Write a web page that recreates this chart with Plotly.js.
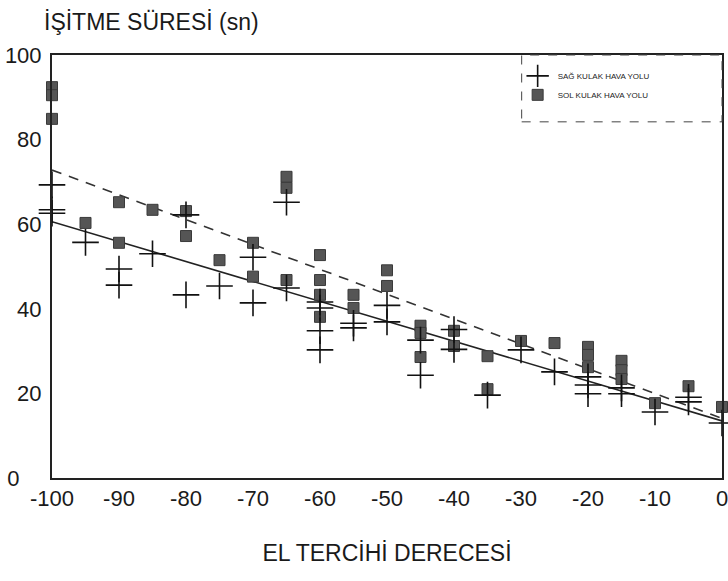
<!DOCTYPE html>
<html>
<head>
<meta charset="utf-8">
<script src="https://cdn.plot.ly/plotly-3.0.1.min.js"></script>
<style>html,body{margin:0;padding:0;background:#fff;}#chart{width:728px;height:581px;}</style>
</head>
<body>
<div id="chart"></div>
<script>
// SAĞ kulak hava yolu (+)
const sagX = [-100,-100,-100,-95,-90,-90,-85,-80,-80,-75,-70,-70,-65,-65,-60,-60,-60,-60,-55,-55,-50,-50,-45,-45,-40,-40,-35,-30,-25,-20,-20,-20,-15,-15,-10,-5,-5,0];
const sagY = [69.3,63.4,62.6,55.7,49.4,45.6,53.0,62.2,43.3,45.4,52.2,41.4,65.2,44.9,41.6,40.2,34.8,30.3,36.6,35.5,40.8,36.9,32.6,24.3,35.1,30.4,19.6,30.3,25.1,23.9,22.0,19.9,21.3,19.9,15.6,19.1,18.0,13.0];
// SOL kulak hava yolu (■)
const solX = [-100,-100,-100,-95,-90,-90,-85,-80,-80,-75,-70,-70,-65,-65,-65,-60,-60,-60,-60,-55,-55,-50,-50,-45,-45,-45,-40,-40,-35,-35,-30,-25,-20,-20,-20,-15,-15,-15,-10,-5,0];
const solY = [92.4,90.5,84.9,60.3,65.2,55.6,63.4,63.1,57.2,51.5,55.6,47.6,71.2,68.6,46.8,52.7,46.8,43.3,38.1,43.3,40.2,49.1,45.4,36.0,34.3,28.6,34.8,31.2,28.8,21.0,32.4,31.9,31.0,29.1,26.2,27.7,25.5,23.4,17.7,21.7,16.8];
// Regression lines (end points)
const fitX = [-100, 0];
const sagFitY = [60.6, 13.5];
const solFitY = [72.8, 14.1];

const xTicks = [-100,-90,-80,-70,-60,-50,-40,-30,-20,-10,0];
const yTicks = [0,20,40,60,80,100];
const yTickText = ['0\u2002\u2002', '20', '40', '60', '80', '100'];
const legendNames = ["SAĞ KULAK HAVA YOLU", "SOL KULAK HAVA YOLU"];

const traces = [
  {x: fitX, y: sagFitY, mode: 'lines', line: {color: '#222', width: 1.6}, showlegend: false, hoverinfo: 'skip'},
  {x: fitX, y: solFitY, mode: 'lines', line: {color: '#333', width: 1.6, dash: '10px,8px'}, showlegend: false, hoverinfo: 'skip'},
  {x: solX, y: solY, mode: 'markers', name: legendNames[1], cliponaxis: false,
   marker: {symbol: 'square', size: 11, color: '#555', line: {color: '#3a3a3a', width: 1}}},
  {x: sagX, y: sagY, mode: 'markers', name: legendNames[0], cliponaxis: false,
   marker: {symbol: 'cross-thin', size: 19, color: '#111', line: {color: '#111', width: 1.6}}}
];

const fam = '"Liberation Sans", Arial, sans-serif';
const tickFont = {family: fam, size: 22, color: '#1a1a1a'};
const titleFont = {family: fam, size: 23, color: '#1a1a1a'};

const layout = {
  width: 728, height: 581,
  margin: {l: 52, r: 6, t: 55, b: 103},
  paper_bgcolor: '#fff', plot_bgcolor: '#fff',
  font: tickFont,
  showlegend: true,
  legend: {x: 0.695, y: 0.985, xanchor: 'left', yanchor: 'top', traceorder: 'reversed',
           bgcolor: 'rgba(0,0,0,0)', font: {family: fam, size: 8, color: '#222'},
           itemwidth: 30, tracegroupgap: 4},
  xaxis: {range: [-100, 0], tickvals: xTicks, ticktext: xTicks.map(String), showgrid: false, zeroline: false,
          showline: true, mirror: true, linecolor: '#222', linewidth: 2, ticks: '',
          tickfont: tickFont, ticklabeloverflow: 'allow',
          title: {text: 'EL TERCİHİ DERECESİ', font: titleFont, standoff: 34}},
  yaxis: {range: [0, 100], tickvals: yTicks, ticktext: yTickText, showgrid: false, zeroline: false,
          showline: true, mirror: true, linecolor: '#222', linewidth: 2, ticks: '',
          tickfont: tickFont, ticklabelstandoff: 4, ticklabeloverflow: 'allow'},
  shapes: [
    {type: 'rect', xref: 'paper', yref: 'paper', x0: 0.701, x1: 1.0, y0: 0.842, y1: 1.0,
     line: {color: '#444', width: 1, dash: 'dash'}, fillcolor: 'rgba(0,0,0,0)'}
  ],
  annotations: [
    {text: 'İŞİTME SÜRESİ (sn)', xref: 'paper', yref: 'paper', x: -0.015, y: 1.078,
     xanchor: 'left', yanchor: 'middle', showarrow: false, font: titleFont}
  ]
};

Plotly.newPlot('chart', traces, layout, {displayModeBar: false, staticPlot: true});
</script>
</body>
</html>
